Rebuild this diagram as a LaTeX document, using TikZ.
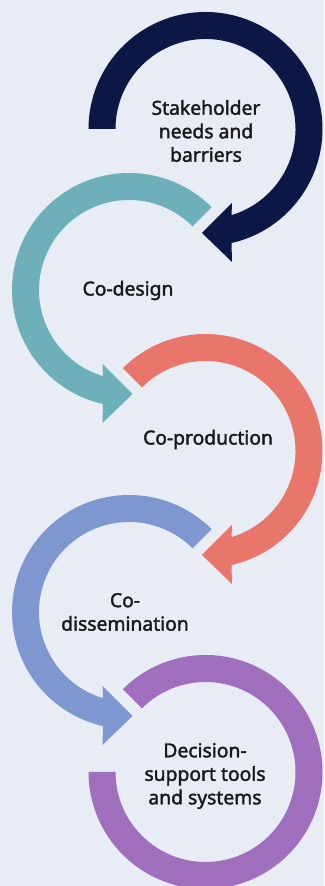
\documentclass[tikz,border=0pt]{standalone}
\usepackage{fontspec}
\setmainfont{Noto Sans}[FakeBold=1.9]
\usetikzlibrary{calc}
\definecolor{bgpanel}{HTML}{E8ECF5}
\definecolor{navyband}{HTML}{0B1745}
\definecolor{tealband}{HTML}{6EB0BA}
\definecolor{salmonband}{HTML}{E8766B}
\definecolor{blueband}{HTML}{7E97D1}
\definecolor{purpleband}{HTML}{9F6EBD}
\definecolor{labeltext}{HTML}{1A1A1E}
\tikzset{
  steplabel/.style={align=center, text=labeltext, inner sep=0pt,
    font=\fontsize{19.3}{23.5}\selectfont},
}
% Ring geometry: inner radius 90, outer radius 117; arrow heads sit on the bottom
\newcommand{\ringRight}[3]{% centre, start angle, colour (runs clockwise)
  \fill[#3] (#1) ++(#2:117) arc[start angle=#2, end angle=-77.16, radius=117]
    -- ($(#1)+(26.5,-133)$) -- ($(#1)+(-3.5,-104)$) -- ($(#1)+(26.5,-74)$)
    -- ($(#1)+(-73.2:90)$) arc[start angle=-73.2, end angle=#2, radius=90] -- cycle;
}
\newcommand{\ringLeft}[3]{% centre, start angle, colour (runs anticlockwise)
  \fill[#3] (#1) ++(#2:117) arc[start angle=#2, end angle=257.16, radius=117]
    -- ($(#1)+(-26.5,-133)$) -- ($(#1)+(3.5,-104)$) -- ($(#1)+(-26.5,-74)$)
    -- ($(#1)+(253.2:90)$) arc[start angle=253.2, end angle=#2, radius=90] -- cycle;
}
\begin{document}
\begin{tikzpicture}[x=1pt,y=1pt]
  \fill[bgpanel] (0,0) rectangle (324,886);
  \useasboundingbox (0,0) rectangle (324,886);

  \coordinate (c1) at (205.5,757);
  \coordinate (c2) at (129,596);
  \coordinate (c3) at (205.5,435);
  \coordinate (c4) at (129,274);
  \coordinate (c5) at (205.5,114);

  % stage rings
  \ringRight{c1}{180}{navyband}
  \ringLeft{c2}{45}{tealband}
  \ringRight{c3}{135}{salmonband}
  \ringLeft{c4}{45}{blueband}
  \fill[purpleband] (c5) ++(135:117) arc[start angle=135, end angle=-180, radius=117]
    -- ++(27,0) arc[start angle=-180, end angle=135, radius=90] -- cycle;

  % stage labels
  \node[steplabel] (s1) at (206,755) {Stakeholder\\needs and\\barriers};
  \node[steplabel] (s2) at (128,595.5) {Co-design};
  \node[steplabel] (s3) at (208,446.5) {Co-production};
  \node[steplabel] (s4) at (125,274) {Co-\\dissemination};
  \node[steplabel] (s5) at (205,110) {Decision-\\support tools\\and systems};
\end{tikzpicture}
\end{document}
